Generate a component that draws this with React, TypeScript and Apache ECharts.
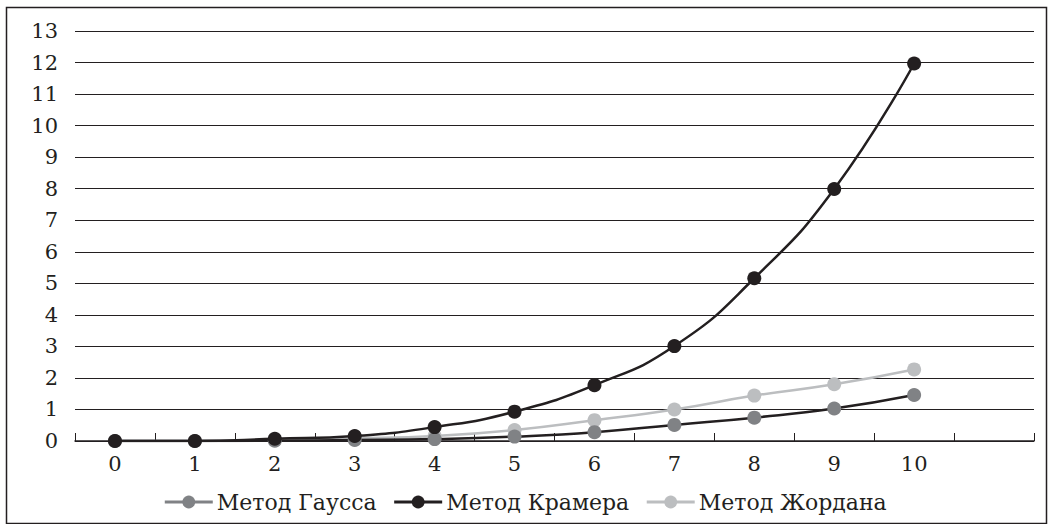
import React, { useEffect, useRef } from "react";
import * as echarts from "echarts";

const categories = ["0", "1", "2", "3", "4", "5", "6", "7", "8", "9", "10", ""];
const gauss = [0, 0, 0.01, 0.03, 0.06, 0.14, 0.28, 0.51, 0.74, 1.03, 1.46];
const kramer = [0, 0, 0.07, 0.16, 0.44, 0.93, 1.77, 3.01, 5.16, 7.99, 11.97];
const jordan = [0, 0, 0.03, 0.08, 0.16, 0.35, 0.66, 1.0, 1.44, 1.8, 2.27];
const seriesNames = ["Метод Гаусса", "Метод Крамера", "Метод Жордана"];

const DARK = "#231f20";
const MID = "#808285";
const LIGHT = "#bcbec0";
const FONT = "DejaVu Serif";

export default function App() {
  const ref = useRef<HTMLDivElement>(null);
  useEffect(() => {
    const chart = echarts.init(ref.current!, null, { renderer: "svg" });
    chart.setOption({
      animation: false,
      backgroundColor: "#ffffff",
      textStyle: { fontFamily: FONT, fontSize: 21 },
      graphic: [
        {
          type: "rect",
          shape: { x: 6.5, y: 7.5, width: 1040, height: 516 },
          style: { fill: "none", stroke: DARK, lineWidth: 1.5 },
          silent: true,
        },
      ],
      grid: { left: 75, right: 16, top: 31, bottom: 83, containLabel: false },
      legend: {
        top: 486,
        left: "center",
        itemGap: 16,
        itemWidth: 48,
        itemHeight: 16,
        textStyle: { fontFamily: FONT, fontSize: 22, color: DARK, padding: [0, 0, 0, -1] },
        data: [
          { name: seriesNames[0], itemStyle: { color: MID }, lineStyle: { color: MID, width: 3 } },
          { name: seriesNames[1], lineStyle: { width: 3 } },
          { name: seriesNames[2], lineStyle: { width: 3 } },
        ],
      },
      xAxis: {
        type: "category",
        data: categories,
        boundaryGap: true,
        axisLine: { lineStyle: { color: DARK, width: 1.5 } },
        axisTick: { show: true, inside: true, length: 8, lineStyle: { color: DARK } },
        axisLabel: { fontFamily: FONT, fontSize: 21, color: DARK, margin: 12 },
      },
      yAxis: {
        type: "value",
        min: 0,
        max: 13,
        interval: 1,
        axisLine: { show: false },
        axisTick: { show: false },
        axisLabel: { fontFamily: FONT, fontSize: 21, color: DARK, margin: 17 },
        splitLine: { lineStyle: { color: DARK, width: 1.2 } },
      },
      series: [
        {
          name: seriesNames[2],
          type: "line",
          data: jordan,
          smooth: true,
          symbol: "circle",
          symbolSize: 14,
          itemStyle: { color: LIGHT },
          lineStyle: { color: LIGHT, width: 2.5 },
          z: 2,
        },
        {
          name: seriesNames[0],
          type: "line",
          data: gauss,
          smooth: true,
          symbol: "circle",
          symbolSize: 14,
          itemStyle: { color: MID },
          lineStyle: { color: DARK, width: 2.5 },
          z: 3,
        },
        {
          name: seriesNames[1],
          type: "line",
          data: kramer,
          smooth: true,
          symbol: "circle",
          symbolSize: 14,
          itemStyle: { color: DARK },
          lineStyle: { color: DARK, width: 2.5 },
          z: 4,
        },
      ],
    });
    return () => chart.dispose();
  }, []);
  return (
    <div
      ref={ref}
      style={{ position: "fixed", left: 0, top: 0, width: 1050, height: 524 }}
    />
  );
}
